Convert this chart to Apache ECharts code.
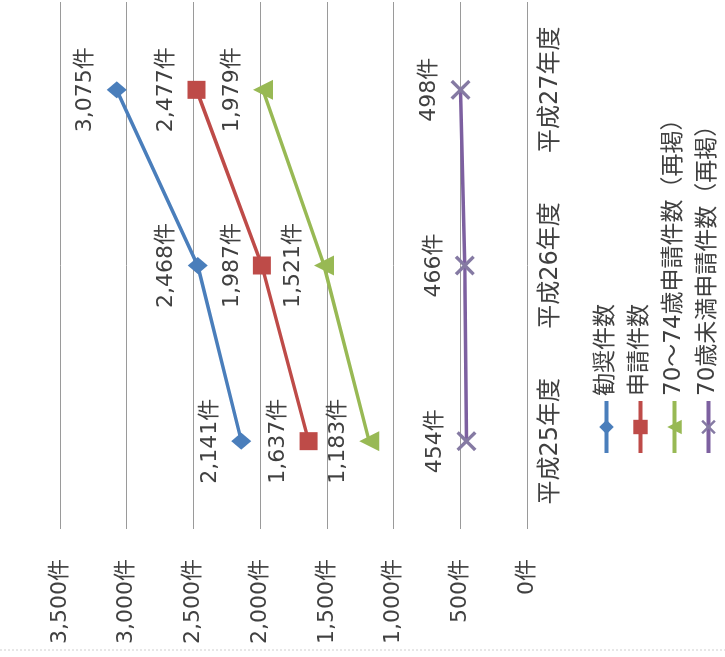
<!DOCTYPE html>
<html><head><meta charset="utf-8">
<script src="https://cdn.jsdelivr.net/npm/echarts@6/dist/echarts.min.js"></script>
<style>
html,body{margin:0;padding:0;background:#fff;overflow:hidden;width:725px;height:657px;}
#wrap{position:absolute;left:0;top:0;width:725px;height:657px;overflow:hidden;}
#chart{position:absolute;left:0;top:0;width:657px;height:780px;transform-origin:0 0;transform:translate(0,657px) rotate(-90deg);}
</style></head>
<body><div id="wrap"><div id="chart"></div></div>
<script>
// ---- data ----
const categories = ['平成25年度', '平成26年度', '平成27年度'];
const seriesNames = ['勧奨件数', '申請件数', '70～74歳申請件数（再掲）', '70歳未満申請件数（再掲）'];
const kanshou = [2141, 2468, 3075];
const shinsei = [1637, 1987, 2477];
const age70to74 = [1183, 1521, 1979];
const under70 = [454, 466, 498];
const valueMin = 0, valueMax = 3500, valueStep = 500;

// ---- styling ----
const FONT = '"DejaVu Sans", "Noto Sans CJK JP", sans-serif';
const TXT = '#404040';
const colors = ['#4A7EBB', '#BE4B48', '#98B954', '#7D60A0'];
const xPath = 'path://M0,1.2L1.2,0L5,3.8L8.8,0L10,1.2L6.2,5L10,8.8L8.8,10L5,6.2L1.2,10L0,8.8L3.8,5Z';
const symbols = ['diamond', 'rect', 'triangle', xPath];
const symbolSizes = [[17, 20], 18, 20, 20];
const fmt = v => v.toLocaleString('en-US') + '件';

const dataSets = [kanshou, shinsei, age70to74, under70];

const chart = echarts.init(document.getElementById('chart'), null, {renderer: 'canvas'});
chart.setOption({
  animation: false,
  backgroundColor: '#fff',
  textStyle: {fontFamily: FONT},
  grid: {left: 128, right: 2, top: 60, bottom: 253, containLabel: false},
  xAxis: {
    type: 'category',
    data: categories,
    boundaryGap: true,
    axisLine: {show: false},
    axisTick: {show: false},
    axisLabel: {fontSize: 24, color: TXT, fontFamily: FONT, margin: 12}
  },
  yAxis: {
    type: 'value',
    min: valueMin, max: valueMax, interval: valueStep,
    axisLine: {show: false},
    axisTick: {show: false},
    splitLine: {lineStyle: {color: '#9a9a9a', width: 1}},
    axisLabel: {fontSize: 22, color: TXT, fontFamily: FONT, margin: 30, formatter: v => fmt(v)}
  },
  legend: {
    orient: 'vertical',
    left: 197, top: 590,
    itemGap: 11,
    itemWidth: 52, itemHeight: 18,
    lineStyle: {width: 4},
    textStyle: {fontSize: 23, color: TXT, fontFamily: FONT},
    data: seriesNames
  },
  graphic: [{
    type: 'line', silent: true,
    shape: {x1: 7, y1: 0, x2: 7, y2: 780},
    style: {stroke: '#cfcfcf', lineWidth: 1, lineDash: [2, 2]}
  }],
  series: dataSets.map((d, i) => ({
    name: seriesNames[i],
    type: 'line',
    data: d,
    symbol: symbols[i],
    symbolSize: symbolSizes[i],
    showAllSymbol: true,
    lineStyle: {color: colors[i], width: 3.5},
    itemStyle: {color: i === 3 ? '#857AA3' : colors[i], borderWidth: 0},
    label: {
      show: true, position: 'top', distance: 10,
      fontSize: 22, color: TXT, fontFamily: FONT,
      formatter: p => fmt(p.value)
    },
    z: 3 + i
  }))
});
</script>
</body></html>
